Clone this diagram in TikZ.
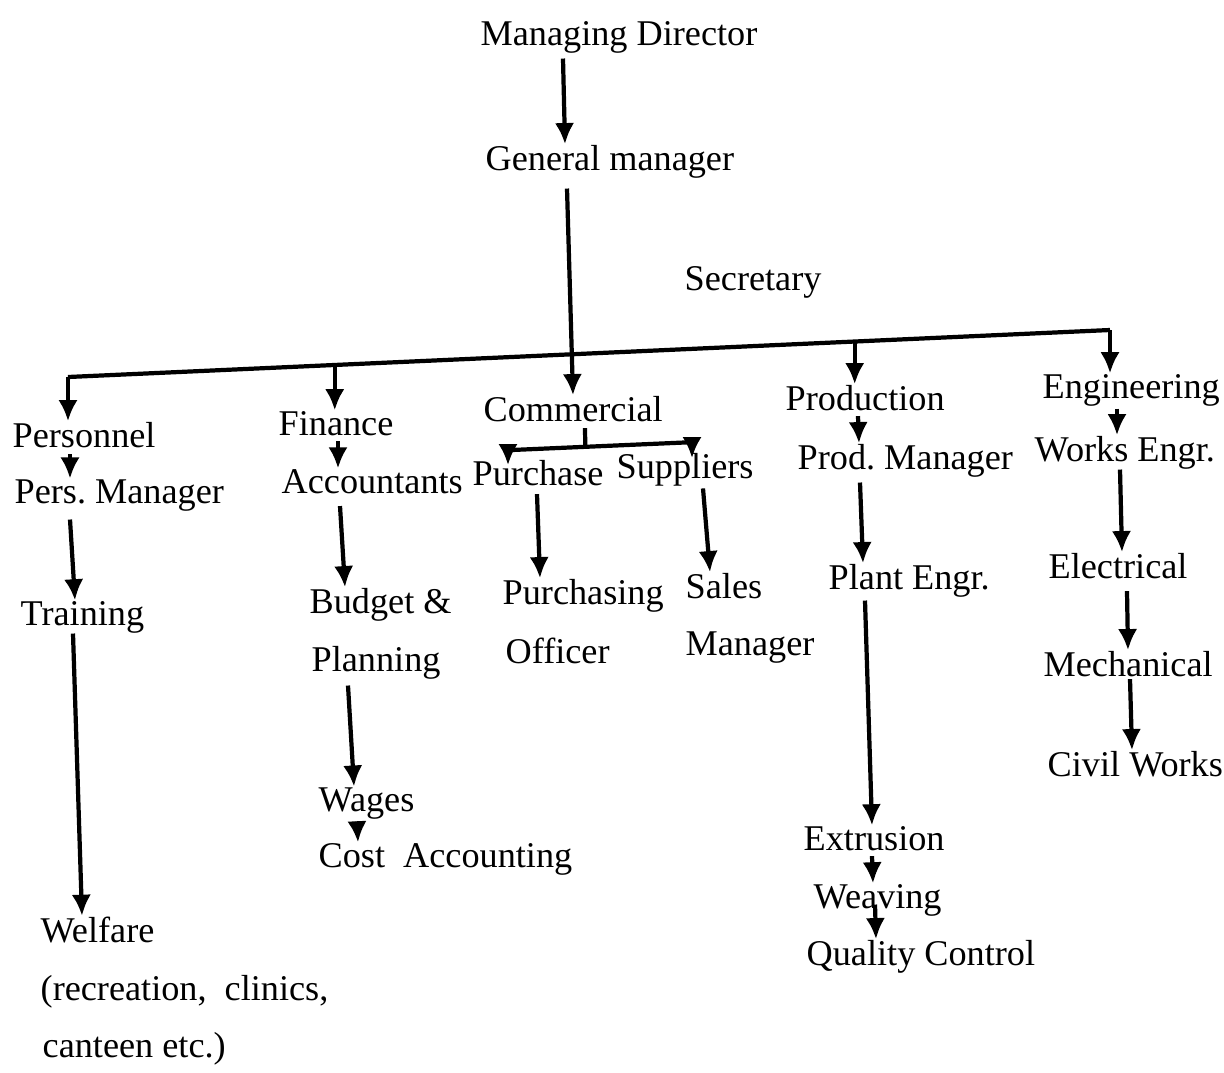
\documentclass[tikz,border=0pt]{standalone}
\usepackage{fontspec}
\setmainfont{Liberation Serif}
\usepackage{tikz}
\usetikzlibrary{positioning,calc,arrows.meta}

\tikzset{
  lbl/.style={inner sep=0pt, anchor=base west, font=\fontsize{10.3}{12}\selectfont\frenchspacing},
  line/.style={line width=1.2pt},
  arr/.style={line width=1.2pt, -{Latex[length=6pt,width=5.5pt]}}
}

\begin{document}
\begin{tikzpicture}[x=0.01cm,y=-0.01cm]
  \useasboundingbox (0,0) rectangle (1224,1072);
  % top of the chart
  \node[lbl] (md) at (480,45) {Managing Director};
  \node[lbl] (gm) at (485,170) {General manager};
  \node[lbl] (sec) at (684,290) {Secretary};
  % departments
  \node[lbl] (pers) at (12,447) {Personnel};
  \node[lbl] (persm) at (14,503) {Pers. Manager};
  \node[lbl] (train) at (20,625) {Training};
  \node[lbl] (welf) at (40,942) {Welfare};
  \node[lbl] (welfa) at (40,1000) {(recreation,\ \ clinics,};
  \node[lbl] (welfb) at (42,1057) {canteen etc.)};
  \node[lbl] (fin) at (278,435) {Finance};
  \node[lbl] (acc) at (281,493) {Accountants};
  \node[lbl] (budget) at (309,613) {Budget \&};
  \node[lbl] (plan) at (311,671) {Planning};
  \node[lbl] (wages) at (318,811) {Wages};
  \node[lbl] (cost) at (318,867) {Cost\enspace Accounting};
  \node[lbl] (com) at (483,421) {Commercial};
  \node[lbl] (purch) at (472,485) {Purchase};
  \node[lbl] (supp) at (616,478) {Suppliers};
  \node[lbl] (po) at (502,604) {Purchasing};
  \node[lbl] (pob) at (505,663) {Officer};
  \node[lbl] (sales) at (685,598) {Sales};
  \node[lbl] (salesm) at (685,655) {Manager};
  \node[lbl] (prod) at (785,410) {Production};
  \node[lbl] (prodm) at (797,469) {Prod. Manager};
  \node[lbl] (plant) at (828,589) {Plant Engr.};
  \node[lbl] (ext) at (803,850) {Extrusion};
  \node[lbl] (weav) at (813,908) {Weaving};
  \node[lbl] (qc) at (806,965) {Quality Control};
  \node[lbl] (eng) at (1042,398) {Engineering};
  \node[lbl] (works) at (1034,461) {Works Engr.};
  \node[lbl] (elec) at (1048,578) {Electrical};
  \node[lbl] (mech) at (1043,676) {Mechanical};
  \node[lbl] (civil) at (1047,776) {Civil Works};

  \draw[arr] ($(md.south west)+(83,5)$) -- ($(gm.north west)+(80,0)$);
  \draw[arr] ($(gm.south west)+(82,10)$) -- ($(com.north west)+(90,0)$);
  % main bar
  \coordinate (busL) at (68,377);
  \coordinate (busR) at (1110,330);
  \draw[line] (busL) -- coordinate[pos=.256] (tF) coordinate[pos=.755] (tP) (busR);
  \draw[arr] (busL) -- (busL |- pers.north);
  \draw[arr] (tF) -- (tF |- fin.north);
  \draw[arr] (tP) -- (tP |- prod.north);
  \draw[arr] (busR) -- (busR |- eng.north);
  % personnel
  \draw[arr] ($(pers.south west)+(58,6)$) -- ($(persm.north west)+(56,0)$);
  \draw[arr] ($(persm.south west)+(56,8)$) -- ($(train.north west)+(55,0)$);
  \draw[arr] ($(train.south west)+(53,0)$) -- ($(welf.north west)+(42,0)$);
  % finance
  \draw[arr] ($(fin.south west)+(60,5)$) -- ($(acc.north west)+(57,0)$);
  \draw[arr] ($(acc.south west)+(59,12)$) -- ($(budget.north west)+(36,0)$);
  \draw[arr] ($(plan.south west)+(37,6)$) -- ($(wages.north west)+(36,0)$);
  \draw[arr] ($(wages.south west)+(39,2)$) -- ($(cost.north west)+(40,0)$);
  % commercial
  \coordinate (brL) at ($(purch.north west)+(36,-9)$);
  \coordinate (brR) at ($(supp.north west)+(76,-10)$);
  \draw[line] ($(com.south west)+(102,6)$) -- ($(brL)!.42!(brR)$);
  \draw[line] (brL) -- (brR);
  \draw[arr] (brL) -- ($(purch.north west)+(36,6)$);
  \draw[arr] (brR) -- ($(supp.north west)+(76,6)$);
  \draw[arr] ($(purch.south west)+(65,8)$) -- ($(po.north west)+(38,0)$);
  \draw[arr] ($(supp.south west)+(87,2)$) -- ($(sales.north west)+(25,0)$);
  % production
  \draw[arr] ($(prod.south west)+(73,5)$) -- ($(prodm.north west)+(62,0)$);
  \draw[arr] ($(prodm.south west)+(63,5)$) -- ($(plant.north west)+(35,0)$);
  \draw[arr] ($(plant.south west)+(37,3)$) -- ($(ext.north west)+(69,0)$);
  \draw[arr] ($(ext.south west)+(69,5)$) -- ($(weav.north west)+(60,0)$);
  \draw[arr] ($(weav.south west)+(62,-12)$) -- ($(qc.north west)+(70,0)$);
  % engineering
  \draw[arr] ($(eng.south west)+(75,2)$) -- ($(works.north west)+(83,0)$);
  \draw[arr] ($(works.south west)+(86,0)$) -- ($(elec.north west)+(74,0)$);
  \draw[arr] ($(elec.south west)+(79,12)$) -- ($(mech.north west)+(85,0)$);
  \draw[arr] ($(mech.south west)+(87,2)$) -- ($(civil.north west)+(85,0)$);
\end{tikzpicture}
\end{document}
